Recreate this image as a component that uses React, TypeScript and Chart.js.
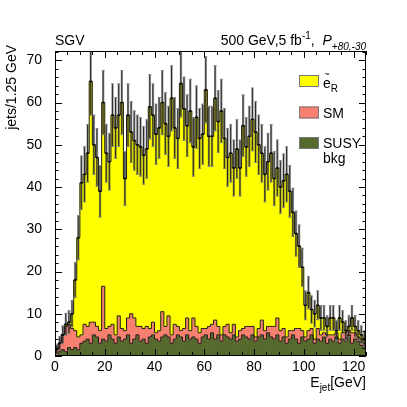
import React, { useEffect, useRef } from "react";
import { Chart, registerables } from "chart.js";
Chart.register(...registerables);

// ---------------- data ----------------
const BIN_WIDTH = 1.25; // GeV
const X_MAX = 125;
const Y_MAX = 72.2;

// total entries per 1.25 GeV bin (0 - 125 GeV, 100 bins)
const totalCounts = [
  1.5, 3, 5, 7.5, 8, 10, 18, 28, 41, 43,
  48, 65, 50, 47, 39, 60, 48, 46, 57, 54,
  57, 60, 42, 57, 53, 51, 50, 49.5, 47.5, 49,
  59, 57, 52.5, 54, 60, 55, 52, 61, 54, 51.5,
  64.5, 58.5, 54.5, 58, 49.5, 56.5, 51.5, 52.5, 63, 52,
  52, 61, 55.5, 58, 51.5, 47, 48, 44.5, 49, 44.5,
  54.5, 49.5, 52, 56, 53, 50, 48, 43, 46, 48,
  42, 44.5, 40, 41.5, 43, 39, 34, 29, 26, 21,
  12, 15, 11, 10, 12, 9, 9, 7, 9, 9,
  6, 9, 8, 6, 7, 9, 7, 6, 5, 4,
];

// SM background per bin
const smCounts = [
  1, 2, 3.5, 6, 5.5, 5, 4, 3, 2, 4,
  3, 5, 3, 2.5, 3, 12.5, 3, 2, 3.5, 2,
  5, 3, 2, 4, 7, 5, 2, 3.5, 2.5, 4,
  2, 3, 1.5, 2.5, 6, 2, 5, 2, 3.5, 2,
  1.5, 3, 4, 2, 4.5, 3, 2.5, 2, 1.5, 3,
  2, 4.5, 2, 1.5, 2, 3, 1.5, 2.5, 1, 2,
  1.5, 2.5, 3, 2, 1, 2, 3.5, 2, 1.5, 2.5,
  3, 4, 2.5, 2, 1.5, 2, 1, 2.5, 3.5, 1.5,
  1, 2, 1.5, 1, 2.5, 1.5, 1, 2, 1, 1.5,
  1, 1, 1.5, 2, 1, 2.5, 1.5, 1, 1.5, 1,
];

// SUSY background per bin
const susyCounts = [
  0.5, 1, 1.5, 1, 2, 1.5, 2, 1.5, 3, 3.5,
  4, 3, 5, 4.5, 3, 4, 3.5, 5, 4, 3,
  4.5, 3.5, 4, 5, 3, 4, 5, 3.5, 4, 3,
  4.5, 5, 4, 3.5, 4.5, 5, 4.5, 3, 4, 5,
  4.5, 3.5, 5, 4, 4.5, 4, 3, 4.5, 5, 4,
  5.5, 4, 5, 3.5, 5, 4.5, 4, 5, 3.5, 4,
  5, 4.5, 4, 5, 3.5, 4.5, 5, 4, 5.5, 4.5,
  4, 5, 3.5, 4.5, 3, 4, 5, 4, 3, 4.5,
  3.5, 4, 5, 3, 4, 3.5, 4.5, 3, 4, 3.5,
  4.5, 3, 4, 3.5, 5, 3, 4, 3.5, 2.5, 2,
];

// statistical error on the total per bin
const statErrors = [
  1.2, 1.7, 2.2, 2.7, 2.8, 3.2, 4.2, 5.3, 6.4, 6.6,
  6.9, 8.1, 7.1, 6.9, 6.2, 7.7, 6.9, 6.8, 7.5, 7.3,
  7.5, 7.7, 6.5, 7.5, 7.3, 7.1, 7.1, 7, 6.9, 7,
  7.7, 7.5, 7.2, 7.3, 7.7, 7.4, 7.2, 7.8, 7.3, 7.2,
  8, 7.6, 7.4, 7.6, 7, 7.5, 7.2, 7.2, 7.9, 7.2,
  7.2, 7.8, 7.4, 7.6, 7.2, 6.9, 6.9, 6.7, 7, 6.7,
  7.4, 7, 7.2, 7.5, 7.3, 7.1, 6.9, 6.6, 6.8, 6.9,
  6.5, 6.7, 6.3, 6.4, 6.6, 6.2, 5.8, 5.4, 5.1, 4.6,
  3.5, 3.9, 3.3, 3.2, 3.5, 3, 3, 2.6, 3, 3,
  2.4, 3, 2.8, 2.4, 2.6, 3, 2.6, 2.4, 2.2, 2,
];

const xTickStep = 20;
const xMinorStep = 5;
const yTickStep = 10;
const yMinorStep = 2;

const legendNames = ["e", "SM", "SUSY"];
const COLORS = {
  eR: "#ffff00",
  sm: "#f88070",
  susy: "#566a2e",
};

// ---------------- derived tables for the library ----------------
const binLabels = totalCounts.map((_, i) => ((i + 0.5) * BIN_WIDTH).toFixed(3));
const susyTop = susyCounts.slice();
const smTop = susyCounts.map((s, i) => s + smCounts[i]);

const FONT = '"Liberation Sans", Arial, Helvetica, sans-serif';

const rootStyle = {
  id: "rootStyle",
  afterDatasetsDraw(chart: any) {
    const { ctx, chartArea: a, scales } = chart;
    const xs = scales.x;
    const ys = scales.y;
    const half = (xs.getPixelForValue(1) - xs.getPixelForValue(0)) / 2;
    ctx.save();
    ctx.beginPath();
    ctx.rect(a.left, a.top, a.right - a.left, a.bottom - a.top);
    ctx.clip();

    // histogram outlines (step lines)
    const levels = [susyTop, smTop, totalCounts];
    ctx.strokeStyle = "#1c1c1c";
    ctx.lineWidth = 1;
    for (const L of levels) {
      ctx.beginPath();
      ctx.moveTo(xs.getPixelForValue(0) - half, ys.getPixelForValue(0));
      L.forEach((v: number, i: number) => {
        const c = xs.getPixelForValue(i);
        const y = ys.getPixelForValue(v);
        ctx.lineTo(c - half, y);
        ctx.lineTo(c + half, y);
      });
      ctx.lineTo(xs.getPixelForValue(L.length - 1) + half, ys.getPixelForValue(0));
      ctx.stroke();
    }

    // error bar lines & markers
    totalCounts.forEach((t, i) => {
      const c = xs.getPixelForValue(i);
      const e = statErrors[i];
      const yt = ys.getPixelForValue(t + e);
      const yb = ys.getPixelForValue(t - e);
      const yv = ys.getPixelForValue(t);
      ctx.fillStyle = "#2a2a2a";
      ctx.fillRect(c - 0.6, yt, 1, yb - yt);
      ctx.fillStyle = "#8a8a8a";
      ctx.fillRect(c - 1.5, yt, 3, 1);
      ctx.fillRect(c - 1.5, yb - 1, 3, 1);
      ctx.fillStyle = "#000";
      ctx.fillRect(c - half * 0.8, yv - 0.75, half * 1.6, 1.5);
    });
    ctx.restore();
  },
  afterDraw(chart: any) {
    const { ctx, chartArea: a, scales } = chart;
    const xe = scales.xE;
    const ys = scales.y;
    ctx.save();
    // frame
    ctx.strokeStyle = "#000";
    ctx.lineWidth = 1;
    ctx.strokeRect(a.left + 0.5, a.top + 0.5, a.right - a.left - 1, a.bottom - a.top - 1);
    // x ticks (bottom & top, inward)
    ctx.beginPath();
    for (let v = 0; v <= X_MAX + 1e-9; v += xMinorStep) {
      const px = Math.round(xe.getPixelForValue(v)) + 0.5;
      const len = v % xTickStep === 0 ? 7 : 4;
      ctx.moveTo(px, a.bottom);
      ctx.lineTo(px, a.bottom - len);
      ctx.moveTo(px, a.top);
      ctx.lineTo(px, a.top + len);
    }
    // y ticks (left & right, inward)
    for (let v = 0; v <= Y_MAX + 1e-9; v += yMinorStep) {
      const py = Math.round(ys.getPixelForValue(v)) + 0.5;
      const len = v % yTickStep === 0 ? 7 : 3.5;
      ctx.moveTo(a.left, py);
      ctx.lineTo(a.left + len, py);
      ctx.moveTo(a.right, py);
      ctx.lineTo(a.right - len, py);
    }
    ctx.stroke();

    ctx.fillStyle = "#000";
    ctx.textBaseline = "alphabetic";
    // top-left label
    ctx.font = `14px ${FONT}`;
    ctx.textAlign = "left";
    ctx.fillText("SGV", a.left, 45);

    // top-right rich label
    const parts = [
      { t: "500 GeV,5 fb", f: `14px ${FONT}`, dy: 0 },
      { t: "-1", f: `10px ${FONT}`, dy: -6 },
      { t: ",  ", f: `14px ${FONT}`, dy: 0 },
      { t: "P", f: `italic 14px ${FONT}`, dy: 0 },
      { t: "+80,-30", f: `italic 10px ${FONT}`, dy: 5 },
    ];
    let tw = 0;
    for (const p of parts) {
      ctx.font = p.f;
      tw += ctx.measureText(p.t).width;
    }
    let x = a.right - tw;
    for (const p of parts) {
      ctx.font = p.f;
      ctx.fillText(p.t, x, 45 + p.dy);
      x += ctx.measureText(p.t).width;
    }

    // x axis title: E_jet[GeV]
    const xt = [
      { t: "E", f: `14px ${FONT}`, dy: 0 },
      { t: "jet", f: `10px ${FONT}`, dy: 4 },
      { t: "[GeV]", f: `14px ${FONT}`, dy: 0 },
    ];
    tw = 0;
    for (const p of xt) {
      ctx.font = p.f;
      tw += ctx.measureText(p.t).width;
    }
    x = a.right - tw;
    for (const p of xt) {
      ctx.font = p.f;
      ctx.fillText(p.t, x, 387 + p.dy);
      x += ctx.measureText(p.t).width;
    }

    // y axis title
    ctx.save();
    ctx.translate(16, a.top - 6);
    ctx.rotate(-Math.PI / 2);
    ctx.font = `14px ${FONT}`;
    ctx.textAlign = "right";
    ctx.fillText("jets/1.25 GeV", 0, 0);
    ctx.restore();

    // legend
    const boxes = [
      { c: COLORS.eR, y: 75 },
      { c: COLORS.sm, y: 106.5 },
      { c: COLORS.susy, y: 137 },
    ];
    boxes.forEach((b) => {
      ctx.fillStyle = b.c;
      ctx.fillRect(299, b.y, 20, 12);
      ctx.strokeStyle = "#777";
      ctx.lineWidth = 1;
      ctx.strokeRect(299.5, b.y + 0.5, 19, 11);
    });
    ctx.fillStyle = "#000";
    ctx.textAlign = "left";
    ctx.font = `14px ${FONT}`;
    ctx.fillText(legendNames[0], 323, 88);
    const ew = ctx.measureText(legendNames[0]).width;
    ctx.font = `10px ${FONT}`;
    ctx.fillText("R", 323 + ew, 92);
    ctx.font = `9px ${FONT}`;
    const tlw = ctx.measureText("~").width;
    ctx.fillText("~", 323 + ew / 2 - tlw / 2, 77);
    ctx.font = `14px ${FONT}`;
    ctx.fillText(legendNames[1], 323, 117.5);
    ctx.fillText(legendNames[2], 323, 148);
    ctx.fillText("bkg", 323, 162.5);
    ctx.restore();
  },
};

export default function App() {
  const ref = useRef<HTMLCanvasElement>(null);
  useEffect(() => {
    document.body.style.margin = "0";
    const canvas = ref.current;
    if (!canvas) return;
    const commonBar = {
      categoryPercentage: 1,
      borderWidth: 0,
      stack: "s",
    };
    const chart = new Chart(canvas, {
      type: "bar",
      data: {
        labels: binLabels,
        datasets: [
          {
            ...commonBar,
            label: "stat. error",
            data: totalCounts.map((t, i) => [t - statErrors[i], t + statErrors[i]]),
            backgroundColor: "rgba(60,60,60,0.5)",
            barPercentage: 0.75,
          },
          {
            ...commonBar,
            label: "e_R",
            data: totalCounts.map((t, i) => [smTop[i], Math.max(smTop[i], t)]),
            backgroundColor: COLORS.eR,
            barPercentage: 1,
          },
          {
            ...commonBar,
            label: "SM",
            data: smTop.map((v, i) => [susyTop[i], v]),
            backgroundColor: COLORS.sm,
            barPercentage: 1,
          },
          {
            ...commonBar,
            label: "SUSY bkg",
            data: susyTop.map((v) => [0, v]),
            backgroundColor: COLORS.susy,
            barPercentage: 1,
          },
        ] as any,
      },
      options: {
        responsive: false,
        animation: false,
        events: [],
        layout: { padding: { left: 0, right: 41, top: 51, bottom: 0 } },
        plugins: { legend: { display: false }, tooltip: { enabled: false } },
        scales: {
          x: {
            type: "category",
            display: false,
            stacked: true,
            offset: true,
          },
          xE: {
            type: "linear",
            position: "bottom",
            min: 0,
            max: X_MAX,
            offset: false,
            grid: { display: false, drawTicks: false, offset: false },
            border: { display: false },
            ticks: {
              stepSize: xTickStep,
              includeBounds: false,
              maxRotation: 0,
              autoSkip: false,
              padding: 3,
              color: "#000",
              font: { family: FONT, size: 14 },
            },
            afterFit: (s: any) => {
              s.height = 51;
            },
          },
          y: {
            type: "linear",
            min: 0,
            max: Y_MAX,
            stacked: false,
            grid: { display: false, drawTicks: false },
            border: { display: false },
            ticks: {
              stepSize: yTickStep,
              includeBounds: false,
              padding: 13,
              color: "#000",
              font: { family: FONT, size: 14 },
            },
            afterFit: (s: any) => {
              s.width = 55;
            },
          },
        } as any,
      },
      plugins: [rootStyle],
    } as any);
    return () => chart.destroy();
  }, []);
  return <canvas ref={ref} width={407} height={407} style={{ display: "block" }} />;
}
